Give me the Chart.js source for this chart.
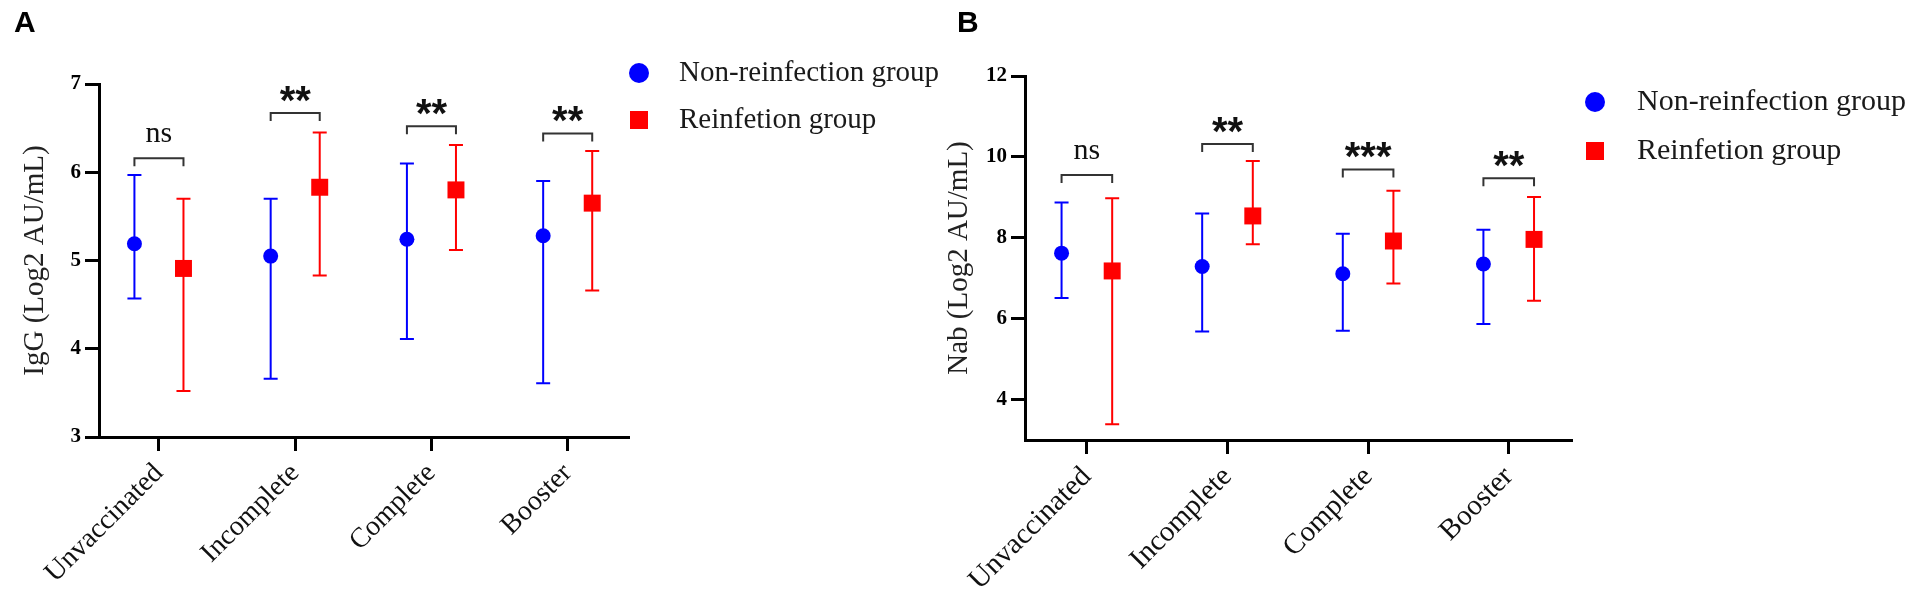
<!DOCTYPE html>
<html>
<head>
<meta charset="utf-8">
<script src="https://cdn.jsdelivr.net/npm/chart.js@4.4.1/dist/chart.umd.min.js"></script>
<style>
  html, body { margin: 0; padding: 0; background: #fff; }
  body { width: 1908px; height: 593px; position: relative; overflow: hidden; }
  canvas { position: absolute; top: 0; }
  #chartA { left: 0; }
  #chartB { left: 930px; }
</style>
</head>
<body>
<canvas id="chartA" width="954" height="593"></canvas>
<canvas id="chartB" width="978" height="593"></canvas>
<script>
// groups on the x axis
const categories = ['Unvaccinated', 'Incomplete', 'Complete', 'Booster'];
const seriesNames = ['Non-reinfection group', 'Reinfetion group'];

// panel A - IgG (Log2 AU/mL)
const igNonMean = [5.19, 5.05, 5.24, 5.28];
const igNonLow  = [4.57, 3.66, 4.11, 3.61];
const igNonHigh = [5.97, 5.70, 6.10, 5.90];
const igReMean  = [4.91, 5.83, 5.80, 5.65];
const igReLow   = [3.52, 4.83, 5.12, 4.66];
const igReHigh  = [5.70, 6.45, 6.31, 6.24];
const igSig     = ['ns', '**', '**', '**'];
const igBracket = [6.16, 6.67, 6.52, 6.44];
const igTicks   = [3, 4, 5, 6, 7];

// panel B - Nab (Log2 AU/mL)
const nabNonMean = [7.62, 7.29, 7.11, 7.35];
const nabNonLow  = [6.51, 5.68, 5.70, 5.87];
const nabNonHigh = [8.87, 8.60, 8.10, 8.20];
const nabReMean  = [7.18, 8.54, 7.92, 7.96];
const nabReLow   = [3.39, 7.84, 6.87, 6.44];
const nabReHigh  = [8.98, 9.90, 9.16, 9.01];
const nabSig     = ['ns', '**', '***', '**'];
const nabBracket = [9.55, 10.32, 9.69, 9.47];
const nabTicks   = [4, 6, 8, 10, 12];

const SHIFT = 0.18;          // side-by-side offset of the two groups
const BLUE = '#0000ff';
const RED = '#ff0000';
const SERIF = '"Liberation Serif", "Times New Roman", serif';

function extrasPlugin(cfg) {
  return {
    id: 'extras',
    beforeDatasetsDraw(chart) {
      const { ctx, scales: { x, y } } = chart;
      ctx.save();
      ctx.lineWidth = 2;
      chart.data.datasets.forEach(ds => {
        ctx.strokeStyle = ds.barColor;
        ds.data.forEach((pt, i) => {
          const px = x.getPixelForValue(pt.x);
          const lo = y.getPixelForValue(ds.errLow[i]);
          const hi = y.getPixelForValue(ds.errHigh[i]);
          ctx.beginPath();
          ctx.moveTo(px, lo); ctx.lineTo(px, hi);
          ctx.moveTo(px - 7, lo); ctx.lineTo(px + 7, lo);
          ctx.moveTo(px - 7, hi); ctx.lineTo(px + 7, hi);
          ctx.stroke();
        });
      });
      ctx.restore();
    },
    afterDraw(chart) {
      const { ctx, scales: { x, y } } = chart;
      ctx.save();

      // significance brackets
      ctx.strokeStyle = '#333';
      ctx.fillStyle = '#111';
      ctx.lineWidth = 2;
      ctx.textAlign = 'center';
      cfg.sig.forEach((label, i) => {
        const x1 = x.getPixelForValue(i + 1 - SHIFT);
        const x2 = x.getPixelForValue(i + 1 + SHIFT);
        const yb = y.getPixelForValue(cfg.bracket[i]);
        ctx.beginPath();
        ctx.moveTo(x1, yb + 8); ctx.lineTo(x1, yb);
        ctx.lineTo(x2, yb); ctx.lineTo(x2, yb + 8);
        ctx.stroke();
        const xc = x.getPixelForValue(i + 1);
        if (label === 'ns') {
          ctx.font = '30px ' + SERIF;
          ctx.textBaseline = 'alphabetic';
          ctx.fillText(label, xc, yb - 16);
        } else {
          ctx.font = 'bold 40px "Liberation Sans", Arial, sans-serif';
          ctx.textBaseline = 'alphabetic';
          ctx.fillText(label, xc, yb + 1);
        }
      });

      // legend
      const lg = cfg.legend;
      ctx.fillStyle = BLUE;
      ctx.beginPath();
      ctx.arc(lg.x, lg.y1, 10, 0, Math.PI * 2);
      ctx.fill();
      ctx.fillStyle = RED;
      ctx.fillRect(lg.x - 9, lg.y2 - 9, 18, 18);
      ctx.fillStyle = '#1a1a1a';
      ctx.font = lg.size + 'px ' + SERIF;
      ctx.textAlign = 'left';
      ctx.textBaseline = 'middle';
      ctx.fillText(seriesNames[0], lg.textX, lg.y1);
      ctx.fillText(seriesNames[1], lg.textX, lg.y2);

      // panel letter
      ctx.fillStyle = '#000';
      ctx.font = 'bold 30px "Liberation Sans", Arial, sans-serif';
      ctx.textBaseline = 'alphabetic';
      ctx.fillText(cfg.letter, cfg.letterX, 32);
      ctx.restore();
    }
  };
}

function makePanel(canvasId, cfg) {
  const points = arr => arr.map((v, i) => ({ x: i + 1, y: v }));
  const nonPts = points(cfg.nonMean).map(p => ({ x: p.x - SHIFT, y: p.y }));
  const rePts = points(cfg.reMean).map(p => ({ x: p.x + SHIFT, y: p.y }));
  const area = cfg.area;
  const canvas = document.getElementById(canvasId);

  new Chart(canvas, {
    type: 'scatter',
    data: {
      datasets: [{
        label: seriesNames[0],
        data: nonPts,
        errLow: cfg.nonLow,
        errHigh: cfg.nonHigh,
        barColor: BLUE,
        backgroundColor: BLUE,
        borderColor: BLUE,
        pointStyle: 'circle',
        pointRadius: 7.5,
        pointBorderWidth: 0
      }, {
        label: seriesNames[1],
        data: rePts,
        errLow: cfg.reLow,
        errHigh: cfg.reHigh,
        barColor: RED,
        backgroundColor: RED,
        borderColor: RED,
        pointStyle: 'rect',
        pointRadius: 12,
        pointBorderWidth: 0
      }]
    },
    options: {
      responsive: false,
      animation: false,
      devicePixelRatio: 1,
      layout: {
        autoPadding: false,
        padding: { top: area.top, right: canvas.width - area.right, left: 0, bottom: 0 }
      },
      plugins: {
        legend: { display: false },
        tooltip: { enabled: false }
      },
      scales: {
        x: {
          type: 'linear',
          min: 0.56,
          max: 4.45,
          afterFit: s => { s.height = canvas.height - area.bottom; },
          afterBuildTicks: s => { s.ticks = categories.map((c, i) => ({ value: i + 1 })); },
          grid: { drawOnChartArea: false, drawTicks: true, tickLength: 14, tickWidth: 3, color: '#000' },
          border: { color: '#000', width: 3 },
          ticks: {
            autoSkip: false,
            minRotation: 45,
            maxRotation: 45,
            padding: 6,
            color: '#111',
            font: { family: SERIF, size: cfg.catSize },
            callback: v => categories[v - 1]
          }
        },
        y: {
          min: cfg.yMin,
          max: cfg.yMax,
          afterFit: s => { s.width = area.left; },
          afterBuildTicks: s => { s.ticks = cfg.yTicks.map(v => ({ value: v })); },
          grid: { drawOnChartArea: false, drawTicks: true, tickLength: 14, tickWidth: 3, color: '#000' },
          border: { color: '#000', width: 3 },
          ticks: {
            padding: 4,
            color: '#000',
            font: { family: SERIF, size: 21, weight: 'bold' }
          },
          title: {
            display: true,
            text: cfg.yTitle,
            color: '#222',
            padding: { top: cfg.titlePad, bottom: 0 },
            font: { family: SERIF, size: 29 }
          }
        }
      }
    },
    plugins: [extrasPlugin(cfg)]
  });
}

makePanel('chartA', {
  nonMean: igNonMean, nonLow: igNonLow, nonHigh: igNonHigh,
  reMean: igReMean, reLow: igReLow, reHigh: igReHigh,
  sig: igSig, bracket: igBracket,
  yMin: 3, yMax: 7, yTicks: igTicks,
  yTitle: 'IgG (Log2 AU/mL)', titlePad: 18, catSize: 28,
  area: { left: 99, right: 629, top: 84, bottom: 437 },
  legend: { x: 639, y1: 73, y2: 120, textX: 679, size: 29 },
  letter: 'A', letterX: 14
});

makePanel('chartB', {
  nonMean: nabNonMean, nonLow: nabNonLow, nonHigh: nabNonHigh,
  reMean: nabReMean, reLow: nabReLow, reHigh: nabReHigh,
  sig: nabSig, bracket: nabBracket,
  yMin: 3, yMax: 12, yTicks: nabTicks,
  yTitle: 'Nab (Log2 AU/mL)', titlePad: 12, catSize: 29,
  area: { left: 95, right: 642, top: 76, bottom: 440 },
  legend: { x: 665, y1: 102, y2: 151, textX: 707, size: 30 },
  letter: 'B', letterX: 27
});
</script>
</body>
</html>
